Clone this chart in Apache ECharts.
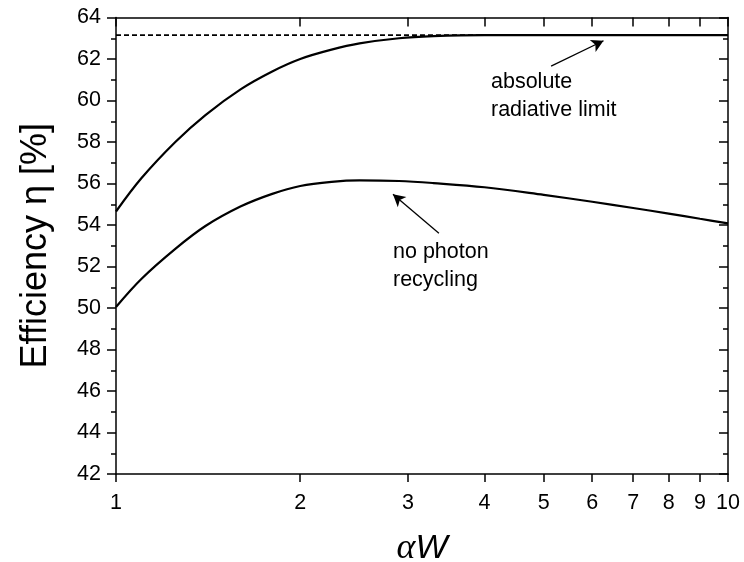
<!DOCTYPE html>
<html>
<head>
<meta charset="utf-8">
<script src="https://cdn.jsdelivr.net/npm/echarts@6/dist/echarts.min.js"></script>
<style>html,body{margin:0;padding:0;background:#fff;}#chart{width:744px;height:562px;}</style>
</head>
<body>
<div id="chart"></div>
<script>
// ---- data ----
const xTicks = [1, 2, 3, 4, 5, 6, 7, 8, 9, 10];
const upperX = [1, 1.1, 1.25, 1.4, 1.6, 1.8, 2, 2.25, 2.5, 2.9, 3.3, 4, 5, 7, 10];
const upperY = [54.65, 56.25, 58.0, 59.3, 60.55, 61.4, 62.0, 62.45, 62.75, 63.0, 63.1, 63.15, 63.15, 63.15, 63.15];
const lowerX = [1, 1.1, 1.25, 1.4, 1.6, 1.8, 2, 2.25, 2.5, 2.9, 3.3, 4, 5, 6, 7, 8, 9, 10];
const lowerY = [50.05, 51.4, 52.85, 53.95, 54.9, 55.5, 55.88, 56.08, 56.15, 56.12, 56.02, 55.82, 55.45, 55.12, 54.82, 54.55, 54.3, 54.08];
const limitX = [1, 10];
const limitY = [63.15, 63.15];
const arrowUpper = [[5.14, 61.66], [6.26, 62.88]];
const arrowLower = [[3.37, 53.6], [2.835, 55.48]];
const noteUpper = ['absolute', 'radiative limit'];
const noteLower = ['no photon', 'recycling'];

const zip = (xs, ys) => xs.map((x, i) => [x, ys[i]]);
const FONT = 'Liberation Sans, Arial, sans-serif';

const chart = echarts.init(document.getElementById('chart'), null, {renderer: 'canvas'});
const axisCommon = {
  axisLine: {show: true, lineStyle: {color: '#000', width: 1.5}},
  splitLine: {show: false}
};
const option = {
  backgroundColor: '#fff',
  animation: false,
  grid: {left: 116, right: 16, top: 17.5, bottom: 88, containLabel: false, outerBoundsMode: 'none'},
  xAxis: [{
    type: 'log', logBase: 10, min: 1, max: 10, position: 'bottom',
    ...axisCommon,
    axisTick: {show: true, inside: false, length: 8, lineStyle: {color: '#000', width: 1.5}, customValues: xTicks},
    axisLabel: {show: true, color: '#000', fontSize: 21.5, fontFamily: FONT, margin: 18, customValues: xTicks, formatter: v => String(Math.round(v))},
    minorTick: {show: false},
    name: '{a|α}{w|W}', nameLocation: 'middle', nameGap: 57,
    nameTextStyle: {
      color: '#000',
      rich: {
        a: {fontSize: 36, fontStyle: 'italic', fontFamily: 'Liberation Serif, serif', color: '#000'},
        w: {fontSize: 34, fontStyle: 'italic', fontFamily: FONT, color: '#000'}
      }
    }
  }, {
    type: 'log', logBase: 10, min: 1, max: 10, position: 'top',
    ...axisCommon,
    axisTick: {show: true, inside: true, length: 9, lineStyle: {color: '#000', width: 1.5}, customValues: xTicks},
    axisLabel: {show: false, customValues: xTicks}
  }],
  yAxis: [{
    type: 'value', min: 42, max: 64, interval: 2, position: 'left',
    ...axisCommon,
    axisTick: {show: true, inside: false, length: 9, lineStyle: {color: '#000', width: 1.5}},
    minorTick: {show: true, splitNumber: 2, length: 5, lineStyle: {color: '#000', width: 1.5}},
    axisLabel: {color: '#000', fontSize: 21.5, fontFamily: FONT, margin: 15},
    name: 'Efficiency η [%]', nameLocation: 'middle', nameGap: 62,
    nameTextStyle: {fontSize: 36, fontFamily: FONT, color: '#000'}
  }, {
    type: 'value', min: 42, max: 64, interval: 2, position: 'right',
    ...axisCommon,
    axisTick: {show: true, inside: true, length: 9, lineStyle: {color: '#000', width: 1.5}},
    minorTick: {show: true, splitNumber: 2, length: 5, lineStyle: {color: '#000', width: 1.5}},
    axisLabel: {show: false}
  }],
  series: [
    {
      type: 'line', data: zip(limitX, limitY), symbol: 'none',
      lineStyle: {color: '#000', width: 1.6, type: [5, 3]}, silent: true
    },
    {
      type: 'line', data: zip(upperX, upperY), symbol: 'none', smooth: 0.35,
      lineStyle: {color: '#000', width: 2.2},
      markLine: {
        silent: true, symbol: ['none', 'arrow'], symbolSize: [10, 12],
        lineStyle: {color: '#000', width: 1.3, type: 'solid'}, label: {show: false},
        data: [[{coord: arrowUpper[0]}, {coord: arrowUpper[1]}]]
      }
    },
    {
      type: 'line', data: zip(lowerX, lowerY), symbol: 'none', smooth: 0.35,
      lineStyle: {color: '#000', width: 2.2},
      markLine: {
        silent: true, symbol: ['none', 'arrow'], symbolSize: [10, 12],
        lineStyle: {color: '#000', width: 1.3, type: 'solid'}, label: {show: false},
        data: [[{coord: arrowLower[0]}, {coord: arrowLower[1]}]]
      }
    }
  ],
  graphic: [
    {type: 'text', left: 491, top: 68, style: {text: noteUpper.join('\n'), font: '21.5px ' + FONT, fill: '#000', lineHeight: 28}},
    {type: 'text', left: 393, top: 238, style: {text: noteLower.join('\n'), font: '21.5px ' + FONT, fill: '#000', lineHeight: 28}}
  ]
};
chart.setOption(option);
</script>
</body>
</html>
